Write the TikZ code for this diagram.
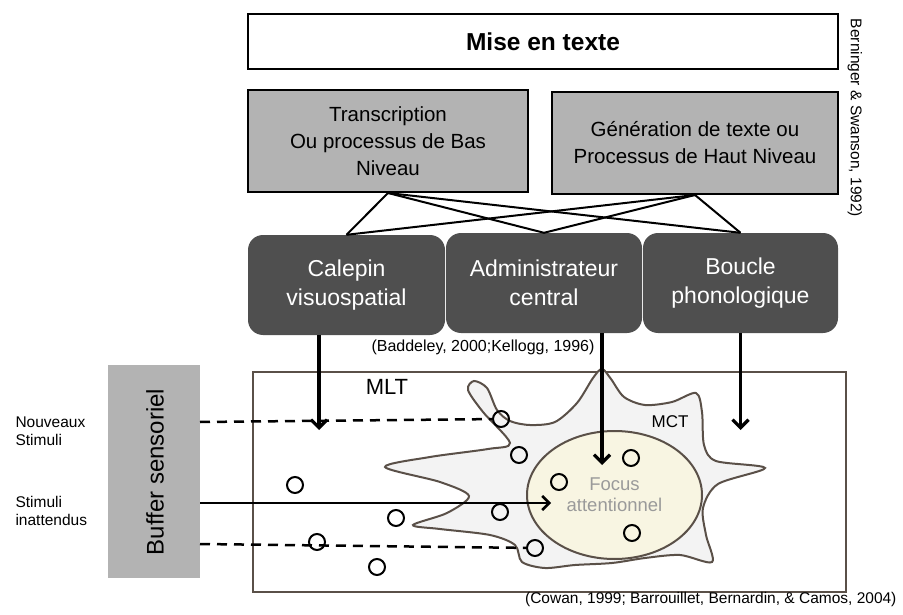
\documentclass[tikz,border=0pt]{standalone}
\usepackage{fontspec}
\setmainfont{Liberation Sans}
\usetikzlibrary{arrows.meta, shapes.geometric}

\definecolor{boxgray}{HTML}{B3B3B3}
\definecolor{wmdark}{HTML}{4F4F4F}
\definecolor{mltline}{HTML}{5A5048}
\definecolor{mctfill}{HTML}{F3F3F3}
\definecolor{focusfill}{HTML}{F8F5E2}
\definecolor{focustext}{HTML}{9A9A9A}

\begin{document}
\begin{tikzpicture}[x=1pt, y=-1pt,
    whitebox/.style={draw, line width=2.5pt, fill=white, minimum width=590pt, minimum height=55pt, inner sep=0pt},
    graybox/.style={draw, line width=2pt, fill=boxgray, minimum height=102pt, inner sep=0pt, align=center, font=\fontsize{20.5}{27}\selectfont},
    wmbox/.style={fill=wmdark, rounded corners=15pt, minimum width=196pt, minimum height=100pt, inner sep=0pt, align=center, text=white, font=\fontsize{23}{28.5}\selectfont},
    link/.style={line width=2pt},
    feed/.style={line width=3.2pt, -{Straight Barb[length=8pt, width=16pt]}},
    item/.style={circle, draw, line width=2pt, minimum size=16pt, inner sep=0pt},
    stim/.style={line width=2.5pt, dash pattern=on 10pt off 7pt},
    ref/.style={font=\fontsize{15.5}{18.5}\selectfont}]
    \useasboundingbox (0,0) rectangle (903,615);

    % Mise en texte
    \node[whitebox, font=\bfseries\fontsize{24.5}{28}\selectfont] (mise) at (543,41.5) {Mise en texte};
    \node[graybox, minimum width=280pt] (trans) at (388,141) {Transcription\\Ou processus de Bas\\Niveau};
    \node[graybox, minimum width=286pt] (gen) at (695,143) {G\'en\'eration de texte ou\\Processus de Haut Niveau};
    \node[ref, rotate=-90] (bern) at (855,118) {Berninger \& Swanson, 1992)};

    % memoire de travail
    \node[wmbox, minimum width=197pt] (calepin) at (346.5,285) {Calepin\\visuospatial};
    \node[wmbox] (admin) at (544,283) {Administrateur\\central};
    \node[wmbox, minimum width=195pt] (boucle) at (740.5,283) {Boucle\\phonologique};
    \node[font=\fontsize{16}{18}\selectfont] (badd) at (483,347) {(Baddeley, 2000;Kellogg, 1996)};

    \foreach \a in {trans, gen}
        \foreach \b in {calepin, admin, boucle}
            \draw[link] (\a.south) -- (\b.north);

    % MLT, MCT, focus
    \draw[mltline, line width=2pt] (253,372) rectangle (846,592);
    \node[font=\fontsize{22}{24}\selectfont] (mlt) at (387,387) {MLT};
    \draw[mltline, line width=2pt, fill=mctfill] plot[smooth cycle, tension=0.5] coordinates {
        (385,467) (430,457) (488,449) (510,443) (483,412) (468,390) (474,381)
        (487,388) (497,410) (510,421) (530,425) (555,422) (577,403) (593,378)
        (602,369) (611,379) (624,397) (645,405) (672,402) (696,393) (702,412)
        (704,445) (716,461) (765,468) (718,484) (703,508) (706,535) (712,562)
        (680,555) (645,558) (612,563) (575,565) (545,568) (522,562) (515,545)
        (490,535) (440,529) (413,525) (447,513) (469,496) (440,482)};
    \node[font=\fontsize{17}{19}\selectfont] (mct) at (670,422) {MCT};
    \node[ellipse, draw=mltline, line width=2pt, fill=focusfill, minimum width=175pt, minimum height=128pt,
        text=focustext, align=center, font=\fontsize{18.5}{21}\selectfont] (focus) at (614.5,495) {Focus\\attentionnel};

    % buffer sensoriel
    \fill[boxgray] (108,365) rectangle (200,578);
    \node[rotate=90, font=\fontsize{24}{26}\selectfont] (buffer) at (155,472) {Buffer sensoriel};
    \node[ref, anchor=west, align=left] (nouv) at (12,431) {Nouveaux\\Stimuli};
    \node[ref, anchor=west, align=left] (inat) at (12,511) {Stimuli\\inattendus};

    % elements en memoire
    \node[item] (e1) at (501,419) {};
    \node[item] (e2) at (295,485) {};
    \node[item] (e3) at (396,518) {};
    \node[item] (e4) at (317,542) {};
    \node[item] (e5) at (377,567) {};
    \node[item] (e6) at (519,455) {};
    \node[item] (e7) at (500,512) {};
    \node[item] (e8) at (535,548) {};
    \node[item] (e9) at (631,458) {};
    \node[item] (e10) at (559,482) {};
    \node[item] (e11) at (632,533) {};

    % fleches
    \coordinate (nsin) at (200,422);
    \coordinate (siin) at (200,503);
    \coordinate (siout) at (551,503);
    \coordinate (bain) at (200,544);
    \draw[stim] (nsin) -- (e1);
    \draw[stim] (bain) -- (e8);
    \draw[line width=2.5pt, -{Straight Barb[length=7pt, width=14pt]}] (siin) -- (siout);

    \coordinate (calout) at (319,335);
    \coordinate (calend) at (319,430);
    \coordinate (admout) at (602,333);
    \coordinate (admend) at (602,465);
    \coordinate (bouend) at (740.5,430);
    \draw[feed] (calout) -- (calend);
    \draw[feed] (admout) -- (admend);
    \draw[feed] (boucle.south) -- (bouend);

    \node[ref, anchor=base east] (cowan) at (900,603) {(Cowan, 1999; Barrouillet, Bernardin, \& Camos, 2004)};
\end{tikzpicture}
\end{document}
